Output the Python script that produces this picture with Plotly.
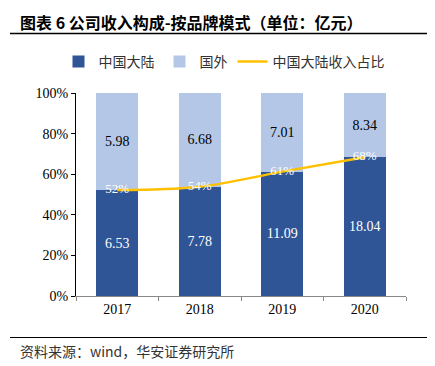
import plotly.graph_objects as go

years = ["2017", "2018", "2019", "2020"]
domestic = [6.53, 7.78, 11.09, 18.04]
overseas = [5.98, 6.68, 7.01, 8.34]
share_labels = ["52%", "54%", "61%", "68%"]

share = [d / (d + o) * 100 for d, o in zip(domestic, overseas)]

OFF = 8  # default page body margin
W, H = 435 - OFF, 366 - OFF
L, R, T, B = 76 - OFF, 29, 93 - OFF, 70
pw, ph = W - L - R, H - T - B

def px(x):
    return (x - OFF - L) / pw

def py(y):
    return (H - B - (y - OFF)) / ph

serif = "Liberation Serif, Times New Roman, serif"
cjk = "Noto Sans CJK SC, sans-serif"

fig = go.Figure()
fig.add_trace(go.Bar(
    x=years, y=domestic, name="中国大陆",
    marker=dict(color="#2F5597", line=dict(width=0)),
    text=[f"{v:.2f}" for v in domestic], textposition="inside",
    insidetextanchor="middle",
    textfont=dict(color="white", family=serif, size=14),
    width=0.51,
))
fig.add_trace(go.Bar(
    x=years, y=overseas, name="国外",
    marker=dict(color="#B4C7E7", line=dict(width=0)),
    text=[f"{v:.2f}" for v in overseas], textposition="inside",
    insidetextanchor="middle",
    textfont=dict(color="black", family=serif, size=14),
    width=0.51,
))
fig.add_trace(go.Scatter(
    x=years, y=share, name="中国大陆收入占比", mode="lines+text",
    line=dict(color="#FFC000", width=2.5, shape="spline"),
    text=share_labels, textposition="middle center",
    textfont=dict(color="white", family=serif, size=13),
))

fig.update_layout(
    width=W, height=H,
    margin=dict(l=L, r=R, t=T, b=B, autoexpand=False),
    paper_bgcolor="white", plot_bgcolor="white",
    barmode="stack", barnorm="percent",
    showlegend=True,
    legend=dict(orientation="h", x=px(224), xanchor="center", y=py(62), yanchor="middle",
                traceorder="normal",
                font=dict(family=cjk, size=14, color="#333")),
    xaxis=dict(showline=True, linecolor="#898989", linewidth=1,
               ticks="outside", tickson="boundaries", ticklen=4, tickcolor="#898989",
               tickfont=dict(family=serif, size=14, color="black"),
               showgrid=False),
    yaxis=dict(range=[0, 100], dtick=20, ticksuffix="%", showline=True, linecolor="black",
               linewidth=1, ticks="outside", ticklen=4, tickcolor="black",
               tickfont=dict(family=serif, size=14, color="black"),
               showgrid=False, zeroline=False),
    font=dict(family=cjk),
)

fig.add_annotation(x=px(18), y=py(22), xref="paper", yref="paper", xanchor="left",
                   yanchor="middle", showarrow=False,
                   text="<b>图表 6 公司收入构成-按品牌模式（单位：亿元）</b>",
                   font=dict(family=cjk, size=16, color="black"))
fig.add_shape(type="line", xref="paper", yref="paper", x0=px(10), x1=px(427),
              y0=py(33.5), y1=py(33.5), line=dict(color="black", width=1.5))
fig.add_shape(type="line", xref="paper", yref="paper", x0=px(10), x1=px(435),
              y0=py(337.5), y1=py(337.5), line=dict(color="black", width=1))
fig.add_annotation(x=px(18), y=py(351), xref="paper", yref="paper", xanchor="left",
                   yanchor="middle", showarrow=False,
                   text="资料来源：wind，华安证券研究所",
                   font=dict(family=cjk, size=14, color="#333"))

fig.write_html("out.html")
